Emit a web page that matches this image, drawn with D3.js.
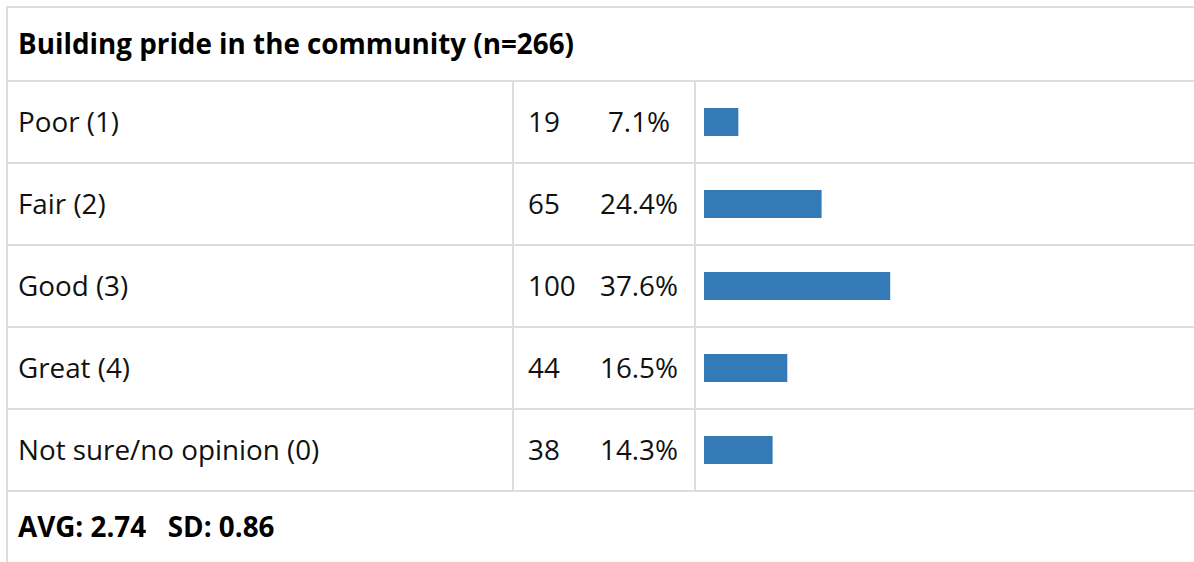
<!DOCTYPE html>
<html>
<head>
<meta charset="utf-8">
<script src="https://cdn.jsdelivr.net/npm/d3@7"></script>
<style>
  html, body { margin: 0; padding: 0; background: #fff; }
  svg { display: block; font-family: "Open Sans", "Noto Sans", sans-serif; }
</style>
</head>
<body>
<svg id="chart" width="1194" height="562"></svg>
<script>
const title = "Building pride in the community (n=266)";
const categories = ["Poor (1)", "Fair (2)", "Good (3)", "Great (4)", "Not sure/no opinion (0)"];
const counts = [19, 65, 100, 44, 38];
const percents = [7.1, 24.4, 37.6, 16.5, 14.3];
const summary = "AVG: 2.74   SD: 0.86";

const W = 1194, H = 562;
const svg = d3.select("#chart");
const gridColor = "#dddddd";
const fs = 27.8;

const tblLeft = 7, tblTop = 7, headerBottom = 81, rowH = 82;
const y = d3.scaleBand().domain(categories).range([headerBottom, headerBottom + rowH * categories.length]).padding(0);
const tableBottom = headerBottom + rowH * categories.length;

const col1 = 513, col2 = 695;
const x = d3.scaleLinear().domain([0, 100]).range([0, 490]);
const barX = 704, barH = 28;

// grid lines
const g = svg.append("g");
g.append("line").attr("x1", tblLeft - 1).attr("x2", W).attr("y1", tblTop).attr("y2", tblTop)
  .attr("stroke", gridColor).attr("stroke-width", 2);
g.append("line").attr("x1", tblLeft).attr("x2", tblLeft).attr("y1", tblTop - 1).attr("y2", H)
  .attr("stroke", gridColor).attr("stroke-width", 2);
const hLines = [headerBottom].concat(categories.map(c => y(c) + y.bandwidth()));
g.selectAll("line.h").data(hLines).join("line").attr("class", "h")
  .attr("x1", tblLeft).attr("x2", W).attr("y1", d => d).attr("y2", d => d)
  .attr("stroke", gridColor).attr("stroke-width", 2);
g.selectAll("line.v").data([col1, col2]).join("line").attr("class", "v")
  .attr("x1", d => d).attr("x2", d => d).attr("y1", headerBottom).attr("y2", tableBottom)
  .attr("stroke", gridColor).attr("stroke-width", 2);

// title
svg.append("text").attr("x", 18).attr("y", (tblTop + headerBottom) / 2)
  .attr("dy", "0.35em").attr("font-size", fs).attr("font-weight", 700).attr("fill", "#000")
  .text(title);

const rows = svg.append("g").selectAll("g").data(categories).join("g")
  .attr("transform", d => `translate(0,${y(d) + y.bandwidth() / 2})`);

rows.append("text").attr("x", 18).attr("dy", "0.35em").attr("font-size", fs).attr("fill", "#111")
  .text(d => d);
rows.append("text").attr("x", 528).attr("dy", "0.35em").attr("font-size", fs).attr("fill", "#111")
  .text((d, i) => counts[i]);
rows.append("text").attr("x", 639).attr("text-anchor", "middle").attr("dy", "0.35em").attr("font-size", fs).attr("fill", "#111")
  .text((d, i) => percents[i].toFixed(1) + "%");
rows.append("rect").attr("x", barX).attr("y", -barH / 2).attr("height", barH)
  .attr("width", (d, i) => x(Math.round(percents[i])))
  .attr("fill", "#337ab7");

// summary
svg.append("text").attr("x", 18).attr("y", tableBottom + 36)
  .attr("dy", "0.35em").attr("font-size", fs).attr("font-weight", 700).attr("fill", "#000")
  .attr("xml:space", "preserve").style("white-space", "pre")
  .text(summary);
</script>
</body>
</html>
